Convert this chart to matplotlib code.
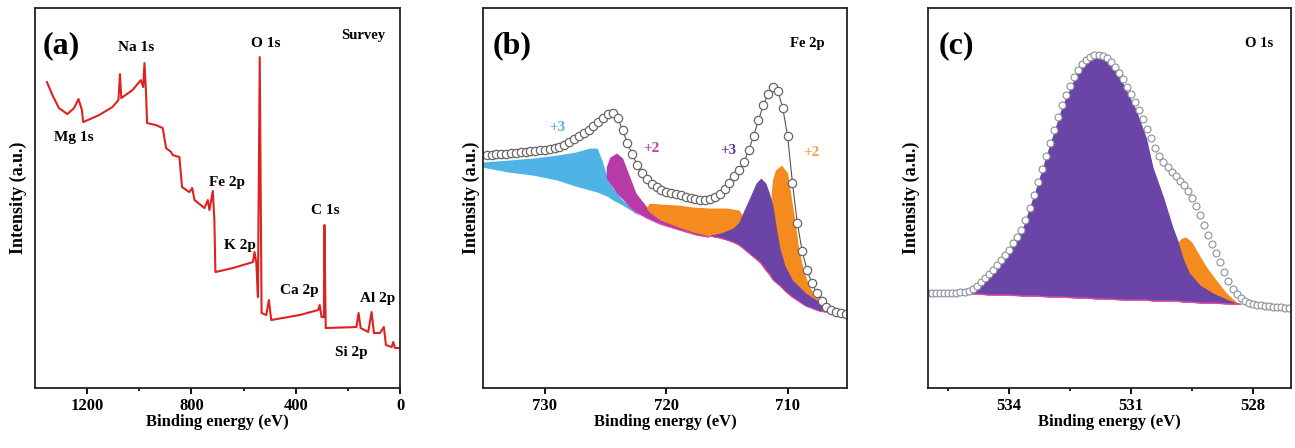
import numpy as np
import matplotlib
matplotlib.use("Agg")
import matplotlib.pyplot as plt
from matplotlib.ticker import FixedLocator

plt.rcParams['font.family'] = ['Liberation Serif', 'DejaVu Serif']
plt.rcParams['font.weight'] = 'bold'

# ---- (a) survey spectrum ----
survey_be = [1354, 1333, 1308, 1276, 1250, 1233, 1220, 1215, 1154, 1103,
             1080, 1074, 1069, 1026, 994, 985, 980, 974, 970, 936,
             910, 897, 878, 872, 846, 836, 808, 797, 788, 769,
             750, 737, 731, 718, 712, 708, 641, 564, 558, 551,
             545, 538, 531, 513, 503, 494, 385, 314, 308, 301,
             292, 290, 285, 167, 159, 151, 122, 109, 100, 77,
             62, 54, 32, 26, 19, 3]
survey_int = [306, 293, 280, 274, 280, 289, 278, 266, 273, 281,
              288, 314, 290, 298, 308, 301, 325, 295, 265, 263,
              260, 240, 236, 233, 231, 201, 196, 200, 188, 184,
              180, 188, 178, 197, 168, 116, 120, 126, 136, 125,
              91, 331, 75, 73, 88, 68, 73, 78, 83, 71,
              71, 163, 60, 61, 75, 60, 56, 76, 55, 55,
              61, 43, 41, 46, 40, 40]
survey_labels = ["Na 1s", "O 1s", "Mg 1s", "Fe 2p", "C 1s", "K 2p", "Ca 2p", "Al 2p", "Si 2p"]
survey_label_be = [1011, 515, 1250, 665, 288, 615, 385, 85, 185]
survey_label_int = [341, 345, 251, 206, 178, 143, 98, 90, 36]

# ---- (b) Fe 2p ----
fe_int = [233, 233, 234, 234, 234, 235, 235, 236, 236, 237,
          237, 238, 238, 239, 240, 241, 243, 246, 249, 252,
          255, 258, 262, 266, 270, 274, 275, 270, 258, 245,
          234, 223, 215, 209, 204, 201, 198, 196, 195, 194,
          193, 191, 190, 189, 188, 188, 189, 191, 194, 199,
          205, 212, 218, 226, 238, 252, 268, 283, 294, 301,
          297, 280, 252, 205, 165, 137, 118, 105, 95, 87,
          81, 78, 76, 75, 74]
fe_be = np.round(np.arange(734.8, 705.0, -0.4), 1)

blue_be = [735.2, 733.0, 731.0, 729.0, 727.5, 726.3, 725.7, 725.3, 724.9, 724.4, 723.6, 722.8, 722.2]
blue_top = [226, 228, 230, 233, 236, 240, 240, 228, 212, 200, 188, 180, 172]
blue_bot = [221, 216, 213, 208, 202, 198, 196, 194, 192, 188, 183, 177, 172]

mag_be = [724.95, 724.65, 724.1, 723.6, 723.0, 722.5, 721.6, 720.5, 718.9, 717.5, 716.5]
mag_top = [221, 231, 235, 230, 211, 195, 181, 173, 165, 158, 152]
mag_bot = [210, 205, 195, 189, 181, 176, 170, 164, 158, 153, 151]

org_be = [721.65, 721.4, 720.5, 719.0, 717.8, 716.4, 715.0, 714.0, 713.3, 712.5, 711.6,
          711.25, 711.0, 710.5, 710.0, 709.7, 709.4, 709.1, 708.7, 708.2, 707.4, 707.0]
org_top = [180, 185, 184, 183, 181, 180, 180, 178, 165, 150, 160,
           208, 218, 223, 215, 191, 168, 141, 118, 101, 88, 84]
org_bot = [180, 176, 168, 161, 156, 152, 148, 143, 136, 128, 114,
           109, 106, 100, 94, 91, 89, 87, 84, 81, 77, 76]

pur_be = [716.4, 715.5, 714.5, 714.0, 713.7, 713.1, 712.6, 712.2, 711.8, 711.5, 711.2,
          710.9, 710.6, 710.2, 709.6, 708.5, 707.4, 706.8]
pur_top = [153, 155, 160, 166, 175, 191, 205, 210, 205, 195, 182,
           158, 138, 122, 108, 95, 86, 83]
pur_bot = [152, 150, 146, 143, 140, 134, 129, 125, 118, 114, 108,
           105, 102, 97, 91, 82, 77, 76]

fe_states = ["+3", "+2", "+3", "+2"]
fe_state_be = [729.0, 721.2, 714.9, 708.0]
fe_state_int = [261, 240, 238, 236]

# ---- (c) O 1s ----
o_int = [95, 95, 95, 95, 95, 95, 95, 95, 96, 96,
         97, 99, 102, 106, 110, 114, 118, 123, 128, 133,
         138, 145, 151, 158, 168, 180, 193, 206, 219, 232,
         245, 258, 271, 283, 293, 302, 311, 318, 324, 328,
         331, 333, 333, 332, 330, 326, 321, 315, 309, 301,
         294, 286, 278, 269, 259, 250, 240, 232, 226, 221,
         216, 212, 207, 203, 197, 190, 182, 173, 163, 153,
         144, 135, 126, 116, 107, 99, 94, 90, 87, 85,
         84, 83, 83, 82, 82, 81, 81, 81, 80, 80]
o_be = np.round(np.arange(536.0, 527.05, -0.1), 1)

opur_be = [535.0, 534.74, 534.5, 534.33, 534.0, 533.67, 533.34, 533.0, 532.68, 532.35,
           532.1, 531.82, 531.53, 531.2, 530.87, 530.62, 530.46, 530.2, 529.97, 529.85,
           529.72, 529.56, 529.3, 528.98, 528.6, 528.3]
opur_top = [94, 103, 113, 120, 137, 160, 200, 244, 284, 314,
            327, 332, 327, 305, 278, 250, 221, 191, 161, 148,
            130, 115, 103, 95, 88, 84]
opur_bot = [94, 94, 93, 93, 93, 92, 92, 91, 91, 90,
            90, 89, 89, 88, 88, 88, 87, 87, 87, 87,
            86, 86, 85, 85, 84, 84]

oorg_be = [529.92, 529.85, 529.75, 529.65, 529.5, 529.39, 529.14, 528.9, 528.65, 528.4, 528.25]
oorg_top = [138, 146, 150, 151, 146, 138, 121, 108, 95, 86, 84]
oorg_bot = [87, 87, 86, 86, 86, 86, 85, 85, 84, 84, 84]

BLUE = '#4fb3e6'
MAG = '#b83aa8'
ORG = '#f58a1f'
PUR = '#6a44a6'
PINK = '#e046a8'

fig = plt.figure(figsize=(12.95, 4.48), dpi=100)
ax_a = fig.add_axes([0.027, 0.1339, 0.2819, 0.848])
ax_b = fig.add_axes([0.373, 0.1339, 0.2811, 0.848])
ax_c = fig.add_axes([0.7166, 0.1339, 0.2803, 0.848])


def style(ax, xlim, major, minor, pad):
    ax.set_xlim(*xlim)
    ax.set_ylim(0, 380)
    ax.set_yticks([])
    ax.xaxis.set_major_locator(FixedLocator(major))
    ax.xaxis.set_minor_locator(FixedLocator(minor))
    ax.tick_params(axis='x', which='major', direction='out', length=4, width=1.3,
                   labelsize=12, pad=3)
    ax.tick_params(axis='x', which='minor', direction='out', length=2.5, width=1.2)
    for s in ax.spines.values():
        s.set_linewidth(1.3)
        s.set_color('#222222')
    ax.set_xlabel('Binding energy (eV)', fontsize=12, fontweight='bold', labelpad=0)
    ax.set_ylabel('Intensity (a.u.)', fontsize=13, fontweight='bold', labelpad=pad)


# (a)
ax_a.plot(survey_be, survey_int, color='#dd2222', lw=1.5)
for lab, x, y in zip(survey_labels, survey_label_be, survey_label_int):
    ax_a.text(x, y, lab, ha='center', va='center', fontsize=11, fontweight='bold')
ax_a.text(0.022, 0.9, '(a)', transform=ax_a.transAxes, fontsize=23, fontweight='bold', va='center')
ax_a.text(0.899, 0.929, 'Survey', transform=ax_a.transAxes, fontsize=10.5, fontweight='bold',
          ha='center', va='center')
style(ax_a, (1400, 0), [1200, 800, 400, 0], [1000, 600, 200], 6)

# (b)
ax_b.fill_between(blue_be, blue_bot, blue_top, color=BLUE, lw=0)
ax_b.fill_between(mag_be, mag_bot, mag_top, color=MAG, lw=0)
ax_b.fill_between(org_be, org_bot, org_top, color=ORG, lw=0)
ax_b.fill_between(pur_be, pur_bot, pur_top, color=PUR, lw=0)
ax_b.plot(mag_be[4:], mag_bot[4:], color=PINK, lw=0.8)
ax_b.plot(pur_be, pur_bot, color=PINK, lw=0.8)
ax_b.plot(fe_be, fe_int, color='#555555', lw=0.8)
ax_b.plot(fe_be, fe_int, 'o', ms=6, mfc='white', mec='#666666', mew=0.9)
for lab, x, y, c in zip(fe_states, fe_state_be, fe_state_int, [BLUE, '#c040a8', '#5b3b9a', '#f2a24e']):
    ax_b.text(x, y, lab, ha='center', va='center', fontsize=11, fontweight='bold', color=c)
ax_b.text(0.027, 0.9, '(b)', transform=ax_b.transAxes, fontsize=23, fontweight='bold', va='center')
ax_b.text(0.89, 0.908, 'Fe 2p', transform=ax_b.transAxes, fontsize=10.5, fontweight='bold',
          ha='center', va='center')
style(ax_b, (735.1, 705.1), [730, 720, 710], [], 2)

# (c) orange first, purple on top of it
ax_c.fill_between(oorg_be, oorg_bot, oorg_top, color=ORG, lw=0)
ax_c.fill_between(opur_be, opur_bot, opur_top, color=PUR, lw=0)
ax_c.plot(opur_be, opur_bot, color=PINK, lw=1.0)
ax_c.plot(o_be, o_int, 'o', ms=5, mfc='white', mec='#8a8f9a', mew=0.8)
ax_c.text(0.028, 0.9, '(c)', transform=ax_c.transAxes, fontsize=23, fontweight='bold', va='center')
ax_c.text(0.912, 0.908, 'O 1s', transform=ax_c.transAxes, fontsize=10.5, fontweight='bold',
          ha='center', va='center')
style(ax_c, (536.0, 527.06), [534, 531, 528], [535.5, 532.5, 529.5], 6)

fig.savefig('out.png', dpi=100)
